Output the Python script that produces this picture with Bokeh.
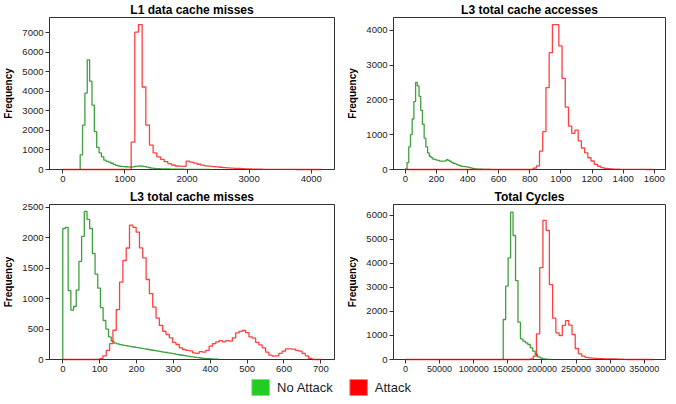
import numpy as np
from bokeh.plotting import figure
from bokeh.models import Range1d, FixedTicker, Legend, LegendItem
from bokeh.layouts import column, row
from bokeh.embed import file_html
from bokeh.resources import INLINE

# ---------------- data ----------------
# L1 data cache misses
l1_title = "L1 data cache misses"
l1_x_ticks = [0, 1000, 2000, 3000, 4000]
l1_y_ticks = [0, 1000, 2000, 3000, 4000, 5000, 6000, 7000]
l1_x_limits = (-214, 4375)
l1_y_top = 7784
l1_data_span = (0, 4160)
l1_green_start, l1_green_width = 280, 38
l1_green_counts = [750, 2270, 3910, 5610, 4525, 3300, 1935, 1130, 850, 650, 480, 420, 380, 320,
                   260, 210, 180, 160, 150, 140, 130, 125, 130, 160, 175, 180, 170, 150, 120, 90,
                   70, 55, 45, 40, 35, 30, 28, 25, 22, 20, 18, 16, 14, 12, 11, 10, 9, 8, 7, 6,
                   5, 4, 3, 3, 2]
l1_red_start, l1_red_width = 1101, 59
l1_red_counts = [1400, 7030, 7420, 4225, 2270, 1250, 850, 650, 520, 400, 300, 230, 180, 170,
                 160, 430, 380, 330, 270, 220, 190, 170, 150, 130, 115, 100, 85, 70, 60, 50,
                 40, 32, 25, 20, 16, 12, 10, 8, 6, 5, 4, 3, 3, 2, 2, 1]

# L3 total cache accesses
l3a_title = "L3 total cache accesses"
l3a_x_ticks = [0, 200, 400, 600, 800, 1000, 1200, 1400, 1600]
l3a_y_ticks = [0, 1000, 2000, 3000, 4000]
l3a_x_limits = (-76, 1672)
l3a_y_top = 4365
l3a_data_span = (0, 1590)
l3a_green_start, l3a_green_width = 0, 11
l3a_green_counts = [20, 200, 650, 1000, 1450, 1950, 2500, 2400, 2100, 1700, 1300, 900, 650, 480,
                    380, 340, 300, 290, 270, 260, 240, 240, 240, 250, 280, 260, 230, 200, 180,
                    160, 140, 120, 100, 90, 85, 80, 70, 60, 45, 30, 20, 15, 12, 10, 8, 6, 5, 4,
                    3, 2]
l3a_red_start, l3a_red_width = 821, 20.7
l3a_red_counts = [37, 103, 525, 1087, 2351, 3354, 4159, 4159, 3550, 2614, 1789, 1246, 1040, 1133,
                  824, 618, 478, 337, 244, 150, 94, 56, 35, 22, 15, 10, 8, 6, 5, 4, 3, 3, 2, 1, 1]

# L3 total cache misses
l3m_title = "L3 total cache misses"
l3m_x_ticks = [0, 100, 200, 300, 400, 500, 600, 700]
l3m_y_ticks = [0, 500, 1000, 1500, 2000, 2500]
l3m_x_limits = (-36, 737)
l3m_y_top = 2544
l3m_data_span = (0, 701)
l3m_green_start, l3m_green_width = 0, 7.3
l3m_green_counts = [2150, 2170, 1130, 810, 870, 1140, 1610, 2020, 2430, 2300, 2150, 1740, 1400,
                    1170, 850, 640, 500, 370, 300, 270, 255, 245, 235, 228, 220, 212, 205, 198,
                    190, 182, 175, 168, 160, 152, 145, 138, 130, 122, 115, 108, 100, 92, 85, 78,
                    70, 62, 55, 48, 42, 36, 30, 25, 20, 16, 12, 9, 6, 4]
l3m_red_start, l3m_red_width = 100, 9
l3m_red_counts = [15, 60, 150, 260, 480, 820, 1270, 1625, 1830, 2205, 2170, 2090, 1832, 1668,
                  1313, 1080, 858, 680, 560, 464, 410, 355, 280, 246, 191, 164, 150, 140, 110,
                  100, 130, 120, 150, 218, 260, 290, 310, 290, 310, 300, 355, 437, 460, 476, 440,
                  370, 350, 280, 240, 191, 120, 71, 55, 60, 100, 137, 175, 175, 170, 150, 137,
                  100, 60, 20]

# Total Cycles
cyc_title = "Total Cycles"
cyc_x_ticks = [0, 50000, 100000, 150000, 200000, 250000, 300000, 350000]
cyc_y_ticks = [0, 1000, 2000, 3000, 4000, 5000, 6000]
cyc_x_limits = (-17450, 381000)
cyc_y_top = 6458
cyc_data_span = (0, 363000)
cyc_green_start, cyc_green_width = 143300, 3600
cyc_green_counts = [1667, 3055, 4236, 6139, 5167, 3290, 1555, 861, 764, 694, 625, 486, 347, 208,
                    111, 60, 30, 15, 6, 4]
cyc_red_start, cyc_red_width = 182540, 4730
cyc_red_counts = [20, 137, 1068, 3830, 5800, 5375, 3120, 1720, 1111, 1000, 1420, 1620, 1430,
                  1042, 458, 236, 139, 90, 70, 55, 45, 40, 35, 30, 25, 22, 20, 15, 10, 8]

legend_labels = ["No Attack", "Attack"]

# ---------------- style ----------------
GREEN_LINE = "#008000"
RED_LINE = "#ff0000"
GREEN_BOX = "#22cc22"
RED_BOX = "#ff0000"
FONT = "Liberation Sans"


def outline(start, width, counts, span=None):
    edges = start + width * np.arange(len(counts) + 1)
    xs, ys = [], []
    if span is not None and span[0] < edges[0]:
        xs += [span[0]]
        ys += [0]
    xs += [edges[0]]
    ys += [0]
    for i, c in enumerate(counts):
        xs += [edges[i], edges[i + 1]]
        ys += [c, c]
    xs += [edges[-1]]
    ys += [0]
    if span is not None and span[1] > edges[-1]:
        xs += [span[1]]
        ys += [0]
    return xs, ys


def make_panel(title, xt, yt, xlim, ytop, span, g, r, fw, fh, bl, br, bt, bb, xfs):
    p = figure(frame_width=fw, frame_height=fh, output_backend="svg", toolbar_location=None,
               x_range=Range1d(*xlim), y_range=Range1d(0, ytop),
               min_border_left=bl, min_border_right=br, min_border_top=bt, min_border_bottom=bb)
    p.title.text = title
    p.title.align = "center"
    p.title.text_font = FONT
    p.title.text_font_size = "12px"
    p.title.text_font_style = "bold"
    p.title.text_color = "#000000"
    p.title.standoff = 1
    p.title.offset = 0
    p.grid.visible = False
    p.outline_line_color = "#333333"
    p.outline_line_width = 1
    p.background_fill_color = "white"
    p.border_fill_color = "white"
    for ax in (p.xaxis[0], p.yaxis[0]):
        ax.axis_line_color = "#333333"
        ax.major_tick_line_color = "#333333"
        ax.major_tick_out = 4
        ax.major_tick_in = 0
        ax.minor_tick_line_color = None
        ax.major_label_text_font = FONT
        ax.major_label_text_color = "#222222"
        ax.major_label_standoff = 2
    p.xaxis[0].major_label_text_font_size = xfs
    p.yaxis[0].major_label_text_font_size = "9.5px"
    p.xaxis[0].axis_label_standoff = 0
    p.xaxis[0].ticker = FixedTicker(ticks=xt)
    p.yaxis[0].ticker = FixedTicker(ticks=yt)
    p.xaxis[0].formatter.use_scientific = False
    p.yaxis[0].formatter.use_scientific = False
    p.yaxis[0].axis_label = "Frequency"
    p.yaxis[0].axis_label_text_font = FONT
    p.yaxis[0].axis_label_text_font_size = "10px"
    p.yaxis[0].axis_label_text_font_style = "bold"
    p.yaxis[0].axis_label_text_color = "#000000"
    p.yaxis[0].axis_label_standoff = 5
    gx, gy = outline(*g)
    rx, ry = outline(*r, span=span)
    p.line(gx, gy, line_color=GREEN_LINE, line_alpha=0.75, line_width=1.3, level="overlay")
    p.line(rx, ry, line_color=RED_LINE, line_alpha=0.75, line_width=1.3, level="overlay")
    return p


p1 = make_panel(l1_title, l1_x_ticks, l1_y_ticks, l1_x_limits, l1_y_top, l1_data_span,
                (l1_green_start, l1_green_width, l1_green_counts),
                (l1_red_start, l1_red_width, l1_red_counts),
                285, 152, 43, 10, 12, 18, "9.5px")
p2 = make_panel(l3a_title, l3a_x_ticks, l3a_y_ticks, l3a_x_limits, l3a_y_top, l3a_data_span,
                (l3a_green_start, l3a_green_width, l3a_green_counts),
                (l3a_red_start, l3a_red_width, l3a_red_counts),
                272, 152, 48, 2, 12, 18, "9.5px")
p3 = make_panel(l3m_title, l3m_x_ticks, l3m_y_ticks, l3m_x_limits, l3m_y_top, l3m_data_span,
                (l3m_green_start, l3m_green_width, l3m_green_counts),
                (l3m_red_start, l3m_red_width, l3m_red_counts),
                285, 155, 43, 10, 13, 18, "9.5px")
p4 = make_panel(cyc_title, cyc_x_ticks, cyc_y_ticks, cyc_x_limits, cyc_y_top, cyc_data_span,
                (cyc_green_start, cyc_green_width, cyc_green_counts),
                (cyc_red_start, cyc_red_width, cyc_red_counts),
                272, 155, 48, 2, 13, 18, "9px")

# legend strip
lf = figure(width=660, height=20, output_backend="svg", toolbar_location=None,
            x_range=Range1d(0, 1), y_range=Range1d(0, 1), min_border=0)
lf.axis.visible = False
lf.grid.visible = False
lf.outline_line_color = None
nan = [np.nan]
rg = lf.quad(left=nan, right=nan, top=nan, bottom=nan, fill_color=GREEN_BOX, line_color="#7fe07f")
rr = lf.quad(left=nan, right=nan, top=nan, bottom=nan, fill_color=RED_BOX, line_color="#ff8080")
leg = Legend(items=[LegendItem(label=legend_labels[0], renderers=[rg]),
                    LegendItem(label=legend_labels[1], renderers=[rr])],
             orientation="horizontal", location="center", glyph_width=22, glyph_height=20,
             label_text_font=FONT, label_text_font_size="13px", label_text_color="#222222",
             label_standoff=6, spacing=14, padding=0, margin=0,
             border_line_color=None, background_fill_alpha=0)
lf.add_layout(leg, "center")

layout = column(row(p1, p2), row(p3, p4), lf)
open("out.html", "w").write(file_html(layout, INLINE))
